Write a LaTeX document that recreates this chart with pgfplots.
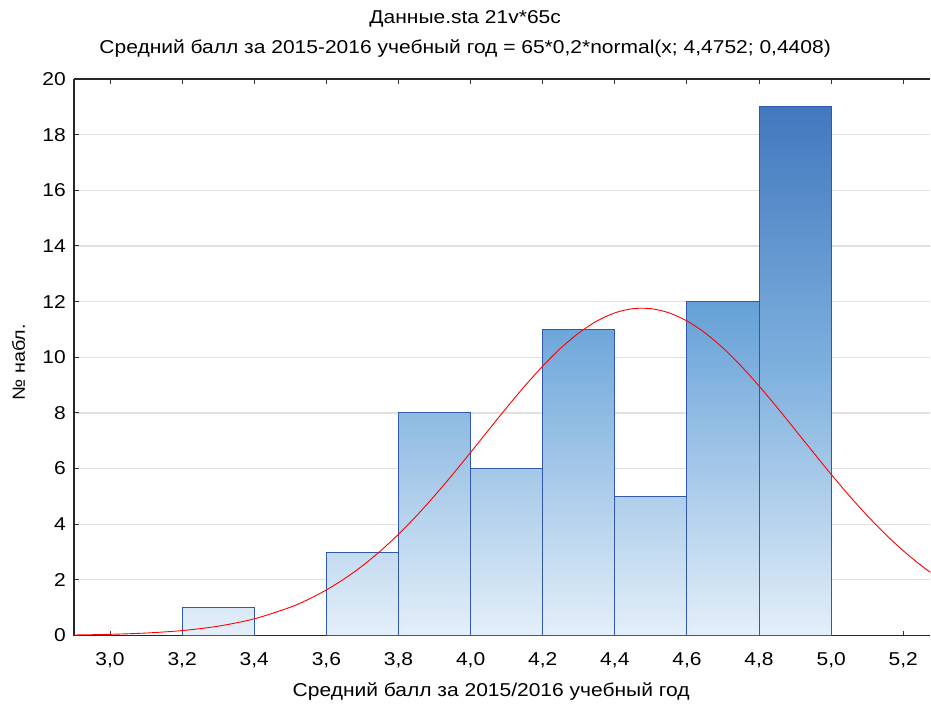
\documentclass[border=0pt]{standalone}
\usepackage{fontspec}
\setmainfont{Liberation Sans}[FakeStretch=1.13]
\usepackage{pgfplots}
\pgfplotsset{compat=1.18}

\definecolor{g0}{RGB}{228,239,249}
\definecolor{g12}{RGB}{100,160,215}
\definecolor{g19}{RGB}{66,120,190}
\definecolor{edge}{RGB}{48,88,172}
\definecolor{gridc}{RGB}{224,224,224}

\begin{document}
\fontsize{18.6}{22}\selectfont
\begin{tikzpicture}
\begin{axis}[name=ax, scale only axis, width=857pt, height=557pt,
  xmin=2.9, xmax=5.275, ymin=0, ymax=20,
  axis x line*=box, axis y line*=left,
  xtick={3.0,3.2,3.4,3.6,3.8,4.0,4.2,4.4,4.6,4.8,5.0,5.2},
  ytick={0,2,4,6,8,10,12,14,16,18,20},
  xticklabel pos=lower,
  ymajorgrids, grid style={gridc, line width=1.2pt},
  tick align=inside, major tick length=5pt,
  tick style={black!80, line width=1pt},
  axis line style={line width=1.3pt, black!85},
  /pgf/number format/assume math mode=true,
  tick label style={font=\fontsize{18.6}{22}\selectfont},
  xticklabel style={anchor=base, yshift=-29.5pt, /pgf/number format/fixed, /pgf/number format/fixed zerofill, /pgf/number format/precision=1, /pgf/number format/use comma},
  yticklabel style={anchor=east, xshift=-8pt, inner sep=0pt},
]
\addplot[ybar interval, draw=edge, line width=1pt, bottom color=g0, top color=g12!8!g0] coordinates {(3.2,1)(3.4,1)};
\addplot[ybar interval, draw=edge, line width=1pt, bottom color=g0, top color=g12!25!g0] coordinates {(3.6,3)(3.8,3)};
\addplot[ybar interval, draw=edge, line width=1pt, bottom color=g0, top color=g12!67!g0] coordinates {(3.8,8)(4.0,8)};
\addplot[ybar interval, draw=edge, line width=1pt, bottom color=g0, top color=g12!50!g0] coordinates {(4.0,6)(4.2,6)};
\addplot[ybar interval, draw=edge, line width=1pt, bottom color=g0, top color=g12!92!g0] coordinates {(4.2,11)(4.4,11)};
\addplot[ybar interval, draw=edge, line width=1pt, bottom color=g0, top color=g12!42!g0] coordinates {(4.4,5)(4.6,5)};
\addplot[ybar interval, draw=edge, line width=1pt, bottom color=g0, top color=g12] coordinates {(4.6,12)(4.8,12)};
\addplot[ybar interval, draw=edge, line width=1pt, bottom color=g0, top color=g19, middle color=g12!79!g0] coordinates {(4.8,19)(5.0,19)};
\addplot[red, line width=0.9pt, smooth] coordinates {
(2.90,0.0198)(3.00,0.0435)(3.10,0.0906)(3.20,0.1793)(3.30,0.3365)(3.40,0.6006)
(3.50,1.018)(3.55,1.300)(3.60,1.639)(3.65,2.040)(3.70,2.506)(3.75,3.040)
(3.80,3.640)(3.85,4.302)(3.90,5.022)(3.95,5.785)(4.00,6.580)(4.05,7.389)
(4.10,8.190)(4.15,8.963)(4.20,9.681)(4.25,10.327)(4.30,10.871)(4.35,11.300)
(4.40,11.595)(4.45,11.746)(4.50,11.746)(4.55,11.597)(4.60,11.303)(4.65,10.876)
(4.70,10.331)(4.75,9.687)(4.80,8.967)(4.85,8.197)(4.90,7.394)(4.95,6.586)
(5.00,5.792)(5.05,5.027)(5.10,4.309)(5.15,3.645)(5.20,3.045)(5.25,2.511)(5.30,2.043)};
\end{axis}
\node[anchor=base, inner sep=0] at ([xshift=391.5pt, yshift=55pt]ax.north west) {Данные.sta 21v*65c};
\node[anchor=base, inner sep=0] at ([xshift=391.5pt, yshift=25pt]ax.north west) {Средний балл за 2015-2016 учебный год = 65*0,2*normal(x; 4,4752; 0,4408)};
\node[anchor=base, inner sep=0] at ([xshift=417.5pt, yshift=-61pt]ax.south west) {Средний балл за 2015/2016 учебный год};
\node[anchor=base, inner sep=0, rotate=90] at ([xshift=-49pt, yshift=-5pt]ax.west) {\fontsize{17.5}{20}\selectfont № набл.};
\path ([xshift=-74pt, yshift=79pt]ax.north west) rectangle ([yshift=-68pt]ax.south east);
\end{tikzpicture}
\end{document}
